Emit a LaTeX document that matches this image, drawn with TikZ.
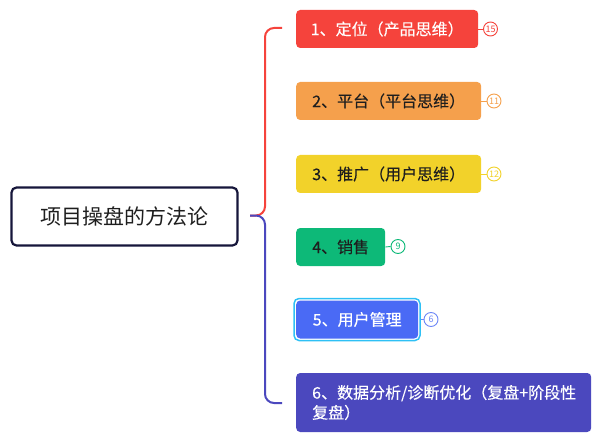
\documentclass[tikz,border=0pt]{standalone}
\usepackage{fontspec}
\setmainfont{Noto Sans CJK SC}[FakeBold=0.25]
\newfontfamily\plainfont{Noto Sans CJK SC}
\definecolor{cRed}{HTML}{F5433C}
\definecolor{cOrange}{HTML}{F5A04C}
\definecolor{cYellow}{HTML}{F2D22A}
\definecolor{cGreen}{HTML}{0DB978}
\definecolor{cBlue}{HTML}{4A6AF5}
\definecolor{cIndigo}{HTML}{4B48BE}
\definecolor{cNavy}{HTML}{16163A}
\definecolor{cCyan}{HTML}{2EC0F5}
\definecolor{cText}{HTML}{1E1E1E}
\begin{document}
\begin{tikzpicture}[x=1pt,y=-1pt,
  topic/.style={rounded corners=4pt,inner sep=0pt,anchor=west,font=\fontsize{16}{20}\selectfont},
  badge/.style={circle,draw,line width=0.9pt,fill=white,minimum size=14pt,inner sep=0pt,font=\plainfont\fontsize{9}{9}\selectfont},
  blink/.style={line width=0.9pt},
  brace/.style={line width=2pt,rounded corners=9pt}]
\useasboundingbox (0,0) rectangle (600,441);
% root
\node[draw=cNavy,line width=2.2pt,rounded corners=5pt,minimum width=226pt,minimum height=58pt,
  font=\plainfont\fontsize{21}{24}\selectfont,text=cText] (root) at (124.5,216.5) {项目操盘的方法论};
% topics
\node[topic,fill=cRed,minimum width=182pt,minimum height=38pt,text=white] (t1) at (296,29) {1、定位（产品思维）};
\node[topic,fill=cOrange,minimum width=185pt,minimum height=38pt,text=cText] (t2) at (296,101) {2、平台（平台思维）};
\node[topic,fill=cYellow,minimum width=185pt,minimum height=38pt,text=cText] (t3) at (296,174) {3、推广（用户思维）};
\node[topic,fill=cGreen,minimum width=89pt,minimum height=38pt,text=cText] (t4) at (296,247) {4、销售};
\node[rounded corners=5pt,draw=cCyan,line width=1.5pt,minimum width=126pt,minimum height=42pt] (sel) at (357,319.5) {};
\node[topic,fill=cBlue,minimum width=122pt,minimum height=38pt,text=white] (t5) at (296,319.5) {5、用户管理};
\node[topic,fill=cIndigo,minimum width=295pt,minimum height=59pt,text=white,align=left,inner xsep=16pt,text width=263pt] (t6) at (296,402.5)
  {6、数据分析/诊断优化（复盘+阶段性\\复盘）};
% braces
\coordinate (bj) at (250,215.5);
\coordinate (btop) at (282,28);
\coordinate (bbot) at (282,403);
\draw[brace,cRed] (bj) -- (265,215.5) -- (265,28) -- (btop);
\draw[brace,cIndigo] (bj) -- (265,215.5) -- (265,403) -- (bbot);
% badges
\node[badge,draw=cRed,text=cRed] (b1) at (490.5,29) {15};
\node[badge,draw=cOrange,text=cOrange] (b2) at (494,101) {11};
\node[badge,draw=cYellow,text=cYellow] (b3) at (494,174) {12};
\node[badge,draw=cGreen,text=cGreen] (b4) at (398,246.5) {9};
\node[badge,draw=cBlue!80,text=cBlue!80] (b5) at (431,319.5) {6};
\draw[blink,cRed] (t1.east) -- (b1.west);
\draw[blink,cOrange] (t2.east) -- (b2.west);
\draw[blink,cYellow] (t3.east) -- (b3.west);
\draw[blink,cGreen] (t4.east) -- (b4.west);
\draw[blink,cBlue!80] (sel.east) -- (b5.west);
\end{tikzpicture}
\end{document}
